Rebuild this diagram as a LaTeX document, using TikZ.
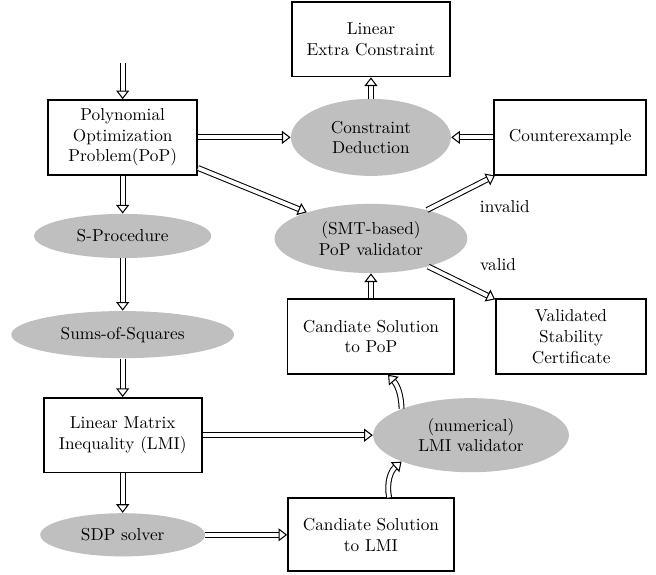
\documentclass[tikz,border=0pt]{standalone}
\usetikzlibrary{shapes.geometric}
\usetikzlibrary{arrows.meta}

\begin{document}
\begin{tikzpicture}% validation flow
    \tikzstyle{box} = [draw, line width=1pt, align=center, minimum height=1.52cm]
    \tikzstyle{blob} = [ellipse, fill=gray!50, align=center, inner sep=0pt]
    \tikzstyle{dbl} = [double, double distance=2.2pt, line width=0.6pt, -{Triangle[open, fill=white, length=5pt, width=7.5pt]}]
    \useasboundingbox (0, 0) rectangle (13.37, 11.70);
    % left column
    \coordinate (input) at (2.50, 10.41);
    \node[box, minimum width=3.04cm] (pop) at (2.50, 8.90) {Polynomial\\Optimization\\Problem(PoP)};
    \node[blob, minimum width=3.61cm, minimum height=0.90cm] (s procedure) at (2.50, 6.89) {S-Procedure};
    \node[blob, minimum width=4.54cm, minimum height=0.96cm] (sos) at (2.50, 4.88) {Sums-of-Squares};
    \node[box, minimum width=3.22cm] (lmi) at (2.50, 2.83) {Linear Matrix\\Inequality (LMI)};
    \node[blob, minimum width=3.36cm, minimum height=0.88cm] (sdp) at (2.50, 0.80) {SDP solver};
    % middle column
    \node[box, minimum width=3.22cm] (extra constraint) at (7.56, 10.90) {Linear\\Extra Constraint};
    \node[blob, minimum width=3.26cm, minimum height=1.57cm] (deduction) at (7.56, 8.90) {Constraint\\Deduction};
    \node[blob, minimum width=3.93cm, minimum height=1.41cm] (smt) at (7.56, 6.84) {(SMT-based)\\PoP validator};
    \node[box, minimum width=3.40cm] (cand pop) at (7.56, 4.84) {Candiate Solution\\to PoP};
    \node[blob, minimum width=3.99cm, minimum height=1.51cm] (lmi validator) at (9.60, 2.83) {(numerical)\\LMI validator};
    \node[box, minimum width=3.38cm, minimum height=1.49cm] (cand lmi) at (7.56, 0.80) {Candiate Solution\\to LMI};
    % right column
    \node[box, minimum width=3.10cm] (counterexample) at (11.62, 8.90) {Counterexample};
    \node[box, minimum width=3.06cm] (certificate) at (11.64, 4.84) {Validated\\Stability\\Certificate};
    \node (invalid) at (10.29, 7.48) {invalid};
    \node (valid) at (10.15, 6.30) {valid};
    % arrows
    \draw[dbl] (input) -- (pop);
    \draw[dbl] (pop) -- (s procedure);
    \draw[dbl] (s procedure) -- (sos);
    \draw[dbl] (sos) -- (lmi);
    \draw[dbl] (lmi) -- (sdp);
    \draw[dbl] (pop) -- (deduction);
    \draw[dbl] (counterexample) -- (deduction);
    \draw[dbl] (deduction) -- (extra constraint);
    \draw[dbl] (pop) -- (smt);
    \draw[dbl] (smt) -- (counterexample);
    \draw[dbl] (smt) -- (certificate);
    \draw[dbl] (cand pop) -- (smt);
    \draw[dbl] (lmi) -- (lmi validator);
    \draw[dbl] (sdp) -- (cand lmi);
    \draw[dbl] ([xshift=0.37cm]cand lmi.north) to[bend left=30] (lmi validator.south west);
    \draw[dbl] (lmi validator.north west) to[bend right=20] ([xshift=0.35cm]cand pop.south);
\end{tikzpicture}
\end{document}
